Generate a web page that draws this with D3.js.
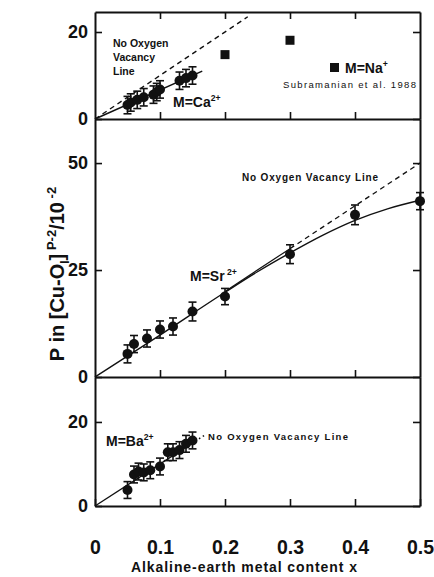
<!DOCTYPE html>
<html><head><meta charset="utf-8">
<script src="https://cdn.jsdelivr.net/npm/d3@7"></script>
<style>
body{margin:0;background:#fff}
svg{display:block}
text{font-family:"Liberation Sans",Arial,Helvetica,sans-serif;fill:#111}
</style>
</head><body>
<script>
// ---------- data ----------
const xTickValues = [0, 0.1, 0.2, 0.3, 0.4, 0.5];
const xTickLabels = ["0", "0.1", "0.2", "0.3", "0.4", "0.5"];

// Ca panel
const caX   = [0.05, 0.055, 0.065, 0.075, 0.09, 0.095, 0.10, 0.13, 0.14, 0.15];
const caP   = [3.2, 3.8, 4.4, 5.0, 5.6, 6.2, 6.8, 8.8, 9.4, 10.0];
const caErr = [2, 2, 2, 2, 2, 2, 2, 2, 2, 2];
const caFitX = [0, 0.165];
const caFitP = [0, 11];
const naX = [0.2, 0.3];
const naP = [14.8, 18.1];
const caNoVacX = [0, 0.235];
const caNoVacP = [0, 23.5];

// Sr panel
const srX   = [0.05, 0.06, 0.08, 0.10, 0.12, 0.15, 0.20, 0.30, 0.40, 0.50];
const srP   = [5.4, 7.7, 9.0, 11.1, 11.8, 15.3, 18.8, 28.7, 37.9, 41.1];
const srErr = [2.1, 2.0, 2.0, 2.0, 2.0, 2.2, 1.9, 2.2, 2.3, 2.0];
const srFitX = [0, 0.1, 0.2, 0.25, 0.3, 0.35, 0.4, 0.45, 0.5];
const srFitP = [0, 9.8, 19.8, 24.6, 29.0, 33.1, 36.6, 39.3, 41.3];
const srNoVacSolidX = [0.2, 0.3];
const srNoVacSolidP = [20, 30];
const srNoVacDashX = [0.3, 0.5];
const srNoVacDashP = [30, 50];

// Ba panel
const baX   = [0.05, 0.06, 0.067, 0.075, 0.085, 0.10, 0.112, 0.12, 0.13, 0.14, 0.15];
const baP   = [3.8, 7.5, 8.2, 8.0, 8.5, 9.4, 12.8, 12.8, 13.3, 14.8, 15.6];
const baErr = [2, 2, 2, 2, 2, 2, 2, 2, 2, 2, 2];
const baFitX = [0, 0.155];
const baFitP = [0, 15.5];
const baDotX = [0.16, 0.168];
const baDotP = [16, 16.8];

const topTicks = [0, 20];
const midTicks = [0, 25, 50];
const botTicks = [0, 20];

// ---------- layout ----------
const W = 434, H = 577;
const svg = d3.select("body").append("svg").attr("width", W).attr("height", H);
const x = d3.scaleLinear().domain([0, 0.5]).range([95, 420]);
const yTop = d3.scaleLinear().domain([0, 24.6]).range([119, 12]);
const yMid = d3.scaleLinear().domain([0, 60.3]).range([377, 119]);
const yBot = d3.scaleLinear().domain([0, 30.7]).range([506, 377]);
const ink = "#111";

function styleAxis(g, fs) {
  g.selectAll("path").attr("stroke", ink).attr("stroke-width", 2);
  g.selectAll("line").attr("stroke", ink).attr("stroke-width", 1.6);
  g.selectAll("text").attr("font-size", fs || 18).attr("font-weight", "bold").attr("fill", ink)
    .attr("font-family", '"Liberation Sans",Arial,sans-serif');
}

function panel(y, ticks, showTopTicks, showXLabels) {
  svg.append("g").attr("transform", `translate(${x(0)},0)`)
    .call(d3.axisLeft(y).tickValues(ticks).tickSizeInner(-7).tickSizeOuter(0).tickPadding(7).tickFormat(d3.format("d")))
    .call(styleAxis);
  svg.append("g").attr("transform", `translate(${x(0.5)},0)`)
    .call(d3.axisRight(y).tickValues(ticks).tickSizeInner(-7).tickSizeOuter(0).tickFormat(""))
    .call(styleAxis);
  const bx = d3.axisBottom(x).tickValues(showXLabels ? xTickValues : xTickValues.slice(1, 5))
    .tickSizeInner(-7).tickSizeOuter(0).tickPadding(34)
    .tickFormat(showXLabels ? ((d, i) => xTickLabels[i]) : "");
  svg.append("g").attr("transform", `translate(0,${y(0)})`).call(bx).call(g => styleAxis(g, 19.5));
  if (showTopTicks) {
    svg.append("g").attr("transform", `translate(0,${y.range()[1]})`)
      .call(d3.axisTop(x).tickValues(xTickValues.slice(1, 5)).tickSizeInner(-7).tickSizeOuter(0).tickFormat(""))
      .call(styleAxis);
  }
}
panel(yTop, topTicks, true, false);
panel(yMid, midTicks, false, false);
panel(yBot, botTicks, false, true);

// ---------- marks ----------
function lineOf(xs, ps, y, dash, w) {
  const pts = xs.map((d, i) => [d, ps[i]]);
  svg.append("path").datum(pts)
    .attr("d", d3.line().x(d => x(d[0])).y(d => y(d[1])).curve(d3.curveMonotoneX))
    .attr("fill", "none").attr("stroke", ink).attr("stroke-width", w || 1.4)
    .attr("stroke-dasharray", dash || null);
}
function pointsOf(xs, ps, es, y) {
  const data = xs.map((d, i) => ({x: d, p: ps[i], e: es[i]}));
  const g = svg.append("g");
  const eb = g.selectAll("g.eb").data(data).join("g");
  eb.append("line").attr("x1", d => x(d.x)).attr("x2", d => x(d.x))
    .attr("y1", d => y(d.p - d.e)).attr("y2", d => y(d.p + d.e))
    .attr("stroke", ink).attr("stroke-width", 1.6);
  [-1, 1].forEach(s => {
    eb.append("line").attr("x1", d => x(d.x) - 4).attr("x2", d => x(d.x) + 4)
      .attr("y1", d => y(d.p + s * d.e)).attr("y2", d => y(d.p + s * d.e))
      .attr("stroke", ink).attr("stroke-width", 1.6);
  });
  g.selectAll("circle").data(data).join("circle")
    .attr("cx", d => x(d.x)).attr("cy", d => y(d.p)).attr("r", 5).attr("fill", ink);
}

// Ca panel
lineOf(caNoVacX, caNoVacP, yTop, "5,4", 1.4);
lineOf(caFitX, caFitP, yTop, null, 1.4);
pointsOf(caX, caP, caErr, yTop);
svg.append("g").selectAll("rect").data(naX.map((d, i) => [d, naP[i]])).join("rect")
  .attr("x", d => x(d[0]) - 4.5).attr("y", d => yTop(d[1]) - 4.5)
  .attr("width", 9).attr("height", 9).attr("fill", ink);

// Sr panel
lineOf(srFitX, srFitP, yMid, null, 1.4);
lineOf(srNoVacSolidX, srNoVacSolidP, yMid, null, 1.2);
lineOf(srNoVacDashX, srNoVacDashP, yMid, "5,4", 1.3);
pointsOf(srX, srP, srErr, yMid);

// Ba panel
lineOf(baFitX, baFitP, yBot, null, 1.4);
lineOf(baDotX, baDotP, yBot, "1.5,3", 1.5);
pointsOf(baX, baP, baErr, yBot);

// ---------- text ----------
function txt(t, px, py, size, weight, anchor) {
  return svg.append("text").attr("x", px).attr("y", py).attr("font-size", size)
    .attr("font-weight", weight || "bold").attr("text-anchor", anchor || "start").text(t);
}
function supText(base, sup, px, py, size) {
  const t = svg.append("text").attr("x", px).attr("y", py).attr("font-size", size).attr("font-weight", "bold");
  t.append("tspan").text(base);
  t.append("tspan").attr("dy", -size * 0.42).attr("font-size", size * 0.62).text(sup);
  return t;
}

txt("No Oxygen", 113, 47, 10.5);
txt("Vacancy", 113, 61, 10.5);
txt("Line", 113, 75, 10.5);
supText("M=Ca", "2+", 173, 107, 14);
svg.append("rect").attr("x", 330).attr("y", 63).attr("width", 9).attr("height", 9).attr("fill", ink);
supText("M=Na", "+", 345, 73, 14);
txt("Subramanian et al. 1988", 283, 88, 9.5, "normal").attr("textLength", 133);

txt("No Oxygen Vacancy Line", 242, 181, 10, "bold").attr("textLength", 136);
supText("M=Sr", " 2+", 190, 281, 14);

supText("M=Ba", "2+", 106, 446, 14);
txt("No Oxygen Vacancy Line", 208, 440, 9.5, "bold").attr("textLength", 140);

// axis titles
txt("Alkaline-earth metal content x", 244, 576 - 4, 14, "bold", "middle").attr("textLength", 226);
const yt = svg.append("text").attr("transform", "translate(64,274) rotate(-90)")
  .attr("text-anchor", "middle").attr("font-size", 20).attr("font-weight", "bold");
yt.append("tspan").text("P in [Cu-O");
yt.append("tspan").attr("font-size", 12).attr("dy", 5).text("I");
yt.append("tspan").attr("dy", -5).text("]");
yt.append("tspan").attr("font-size", 13).attr("dy", -8).text(" P-2");
yt.append("tspan").attr("dy", 8).text("/10");
yt.append("tspan").attr("font-size", 13).attr("dy", -8).text(" -2");
</script>
</body></html>
